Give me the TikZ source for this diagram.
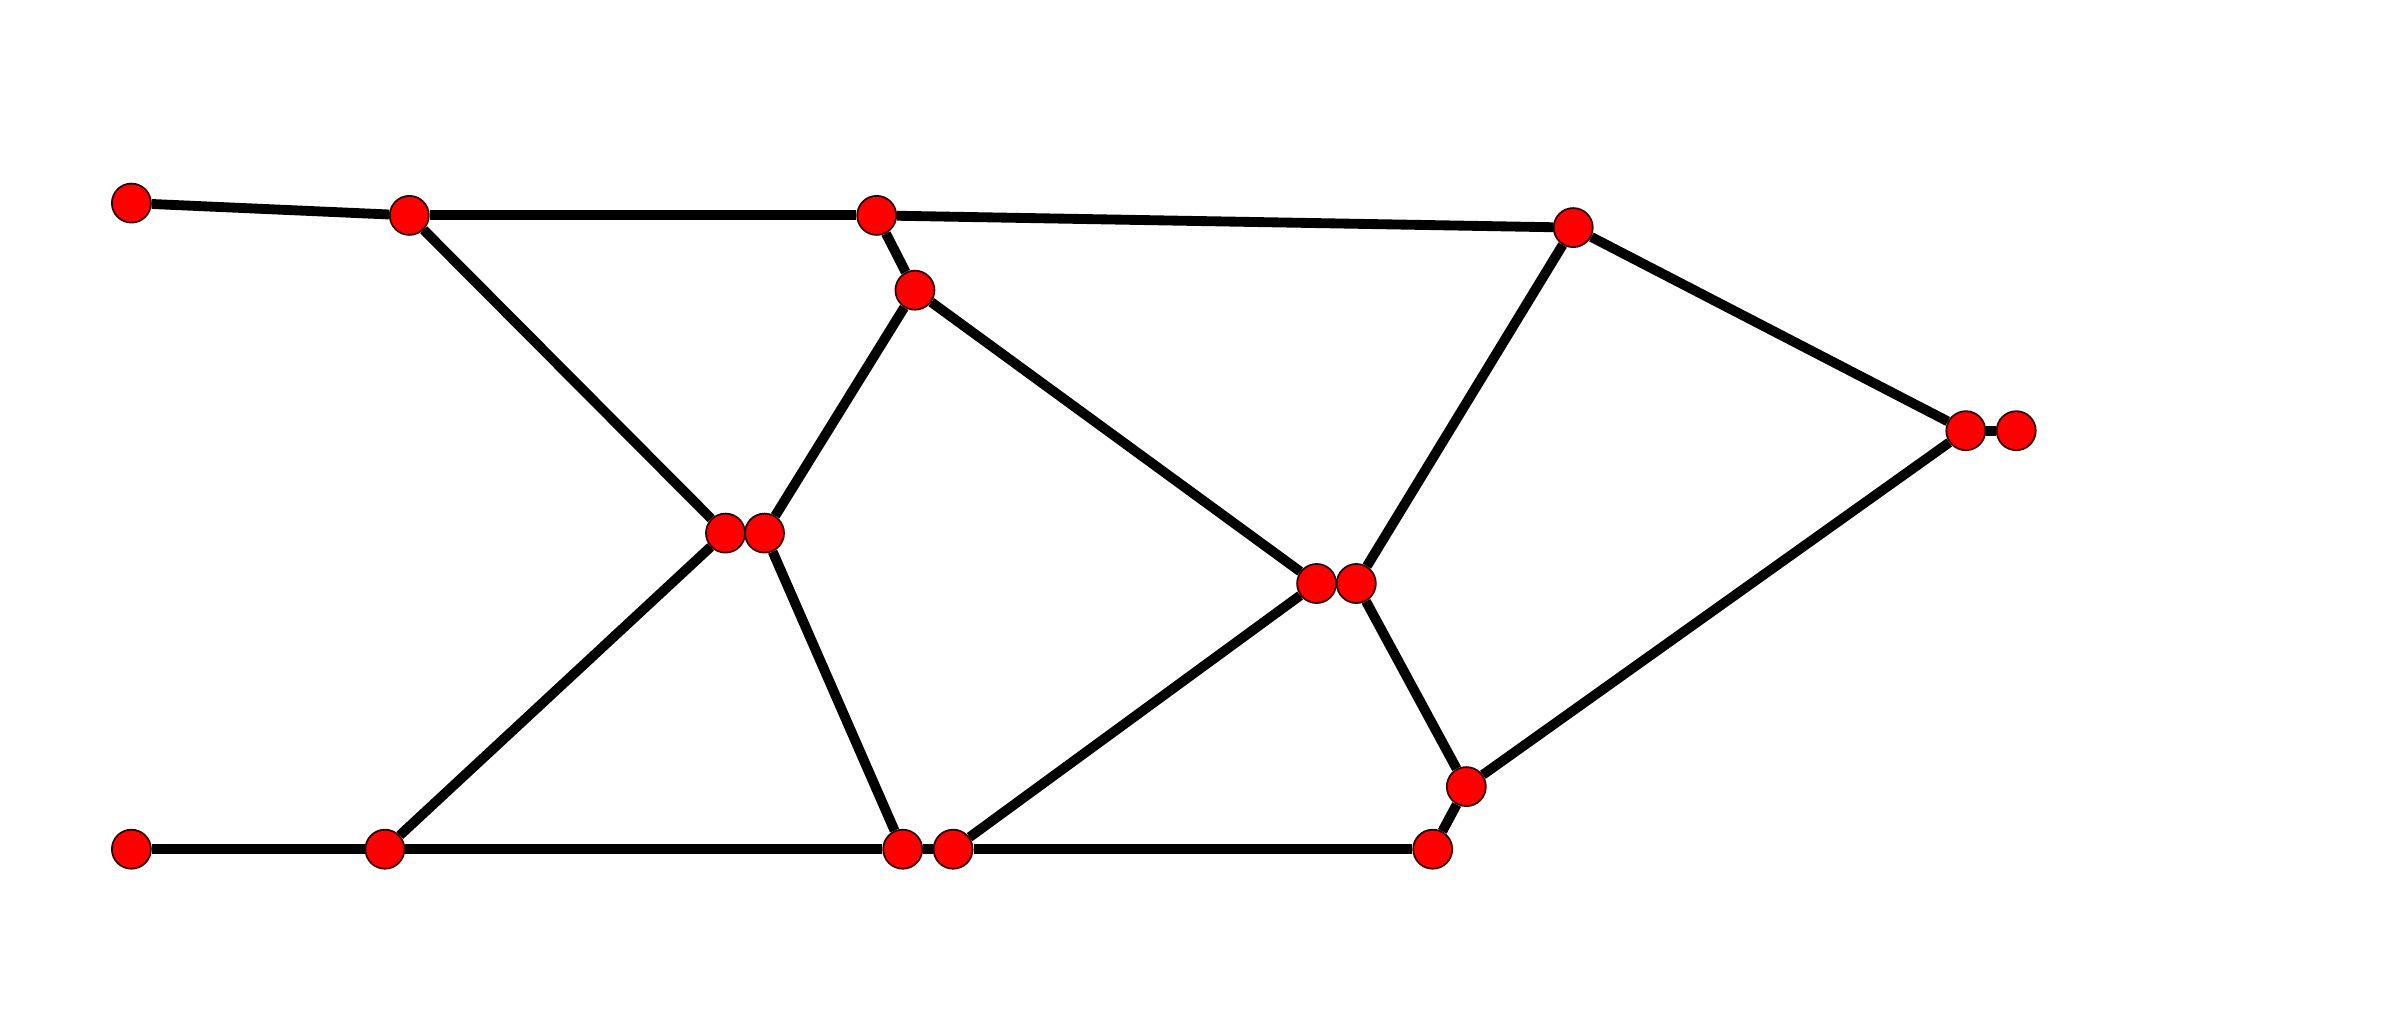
\documentclass[tikz,border=0pt]{standalone}
\begin{document}
\begin{tikzpicture}[x=0.01cm,y=-0.01cm,
  vtx/.style={circle,fill=red,draw=black!80!red,line width=0.5pt,minimum size=0.39cm,inner sep=0pt},
  edge/.style={line width=2.8pt,black}]
\useasboundingbox (0,0) rectangle (2395,1034);
\node[vtx] (A) at (131.4,203.1) {};
\node[vtx] (B) at (409.3,215.4) {};
\node[vtx] (C) at (876.7,215.4) {};
\node[vtx] (D) at (914.9,290.2) {};
\node[vtx] (E) at (1573.2,227.6) {};
\node[vtx] (F) at (725.5,533.1) {};
\node[vtx] (G) at (764.5,533.1) {};
\node[vtx] (H) at (1316.6,583.5) {};
\node[vtx] (I) at (1356.3,583.5) {};
\node[vtx] (J) at (1965.8,430.7) {};
\node[vtx] (K) at (2016.2,430.7) {};
\node[vtx] (L) at (131.4,849.2) {};
\node[vtx] (M) at (384.9,849.2) {};
\node[vtx] (N) at (902.7,849.2) {};
\node[vtx] (O) at (953.1,849.2) {};
\node[vtx] (P) at (1432.7,849.2) {};
\node[vtx] (Q) at (1466.3,786.6) {};
\foreach \a/\b in {A/B,B/C,C/E,C/D,B/F,F/G,G/D,D/H,H/I,I/E,E/J,J/K,F/M,L/M,M/N,G/N,N/O,O/H,O/P,I/Q,P/Q,Q/J}
  \draw[edge] (\a) -- (\b);
\end{tikzpicture}
\end{document}
